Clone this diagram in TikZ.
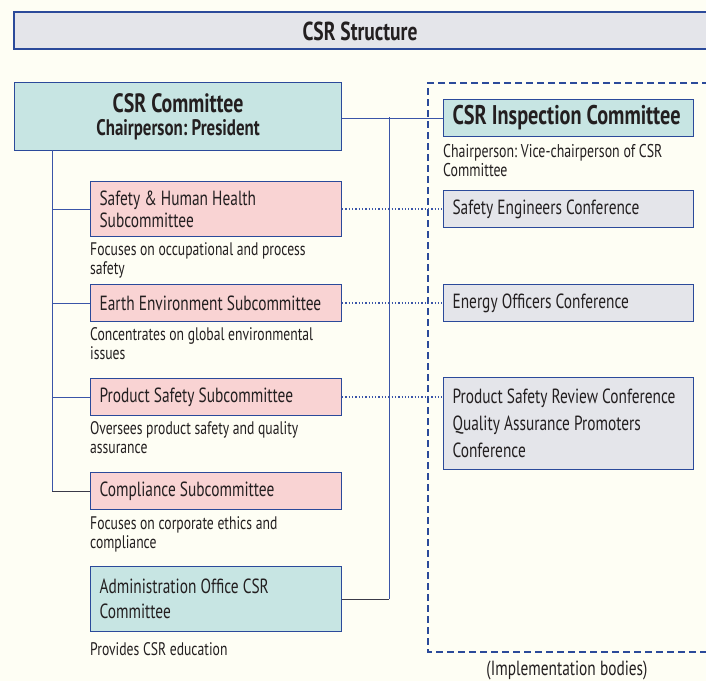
\documentclass[tikz,border=0pt]{standalone}
\usepackage{fontspec}
\setmainfont{PT Sans}[FakeStretch=0.75]
\usepackage{xcolor}
\definecolor{csrbg}{HTML}{FEFEF4}
\definecolor{csrblue}{HTML}{2B4A9A}
\definecolor{csrline}{HTML}{3A55A8}
\definecolor{csrdark}{HTML}{3A3A48}
\definecolor{csrteal}{HTML}{C7E5E3}
\definecolor{csrpink}{HTML}{F9D3D3}
\definecolor{csrgray}{HTML}{E4E5EA}
\definecolor{csrtext}{HTML}{231F20}
\usetikzlibrary{positioning,calc}
\hyphenpenalty=10000
\exhyphenpenalty=10000
\frenchspacing

\begin{document}
\begin{tikzpicture}[x=1pt,y=-1pt,
  box/.style={draw=csrblue,line width=1.1pt,anchor=north west,align=flush left,
    text width=233pt,inner xsep=9pt,inner ysep=0pt,text=csrtext,
    font=\fontsize{20.5}{22}\selectfont},
  subbox/.style={box,fill=csrpink},
  confbox/.style={box,fill=csrgray},
  note/.style={anchor=north west,align=flush left,inner sep=0pt,text width=226pt,
    text=csrtext,font=\fontsize{18.2}{19.5}\selectfont},
  tree/.style={csrline,line width=0.9pt},
  treeend/.style={csrdark,line width=0.9pt},
  link/.style={csrline,line width=1.3pt,dotted}
]
  % Background
  \fill[csrbg] (0,0) rectangle (706,681);
  \useasboundingbox (0,0) rectangle (706,681);
  \clip (0,0) rectangle (706,681);
  % Title bar
  \draw[fill=csrgray,draw=csrblue,line width=1.1pt] (14,12) rectangle (720,49);
  \node[text=csrtext,font=\fontsize{26}{26}\selectfont\bfseries] (title) at (360,31) {CSR Structure};
  % Implementation bodies frame
  \draw[csrblue,line width=1.5pt,dash pattern=on 7pt off 4pt] (720,83) -| (428,652) -- (720,652);
  \node[text=csrtext,font=\fontsize{20.5}{20}\selectfont] (impl) at (567,670) {(Implementation bodies)};
  % CSR committee
  \node[box,fill=csrteal,align=flush center,text width=309pt,minimum height=68pt] (csrcom) at (14,82)
    {{\fontsize{26.5}{26}\selectfont\bfseries CSR Committee}\\[1pt]
     {\fontsize{22.5}{22}\selectfont\bfseries Chairperson: President}};
  % Subcommittees
  \node[subbox,minimum height=55pt] (safety) at (90,181) {Safety \& Human Health\\Subcommittee};
  \node[note] (safetytxt) at (90,242) {Focuses on occupational and process safety};
  \node[subbox,minimum height=37pt] (earth) at (90,284) {Earth Environment Subcommittee};
  \node[note] (earthtxt) at (90,327) {Concentrates on global environmental issues};
  \node[subbox,minimum height=37pt] (product) at (90,378) {Product Safety Subcommittee};
  \node[note] (producttxt) at (90,421) {Oversees product safety and quality assurance};
  \node[subbox,minimum height=37pt] (compliance) at (90,472) {Compliance Subcommittee};
  \node[note] (compliancetxt) at (90,516) {Focuses on corporate ethics and compliance};
  % Administration office
  \node[box,fill=csrteal,minimum height=65pt,font=\fontsize{20.5}{25}\selectfont] (admin) at (90,566)
    {Administration Office CSR\\Committee};
  \node[note] (admintxt) at (90,642) {Provides CSR education};
  % Inspection side
  \node[box,fill=csrteal,minimum height=37pt,text width=232pt,font=\fontsize{27}{26}\selectfont\bfseries] (inspect) at (443,99)
    {CSR Inspection Committee};
  \node[note,font=\fontsize{18.5}{19.5}\selectfont] (inspchair) at (443,144)
    {Chairperson: Vice-chairperson of CSR Committee};
  \node[confbox,minimum height=37pt,text width=232pt] (safeeng) at (443,190) {Safety Engineers Conference};
  \node[confbox,minimum height=37pt,text width=232pt] (energy) at (443,284) {Energy Officers Conference};
  \node[confbox,minimum height=92pt,text width=232pt,font=\fontsize{20.5}{27}\selectfont] (prodrev) at (443,377)
    {Product Safety Review Conference\\Quality Assurance Promoters\\Conference};
  % Tree connectors
  \coordinate (spine) at (52,150);
  \draw[tree] (spine) -- (spine |- compliance.west);
  \draw[treeend] (spine |- compliance.west) -- (compliance.west);
  \foreach \n in {safety,earth,product}
    \draw[tree] (\n.west) -- (\n.west -| spine);
  \coordinate (trunk) at (389,117);
  \draw[tree] (inspect.west -| csrcom.east) -- (inspect.west);
  \draw[tree] (trunk) -- (trunk |- admin.east);
  \draw[treeend] (trunk |- admin.east) -- (admin.east);
  % Dotted links
  \draw[link] (safety.east) -- (safeeng.west);
  \draw[link] (earth.east) -- (energy.west);
  \draw[link] (product.east) -- (prodrev.west |- product.east);
\end{tikzpicture}
\end{document}
